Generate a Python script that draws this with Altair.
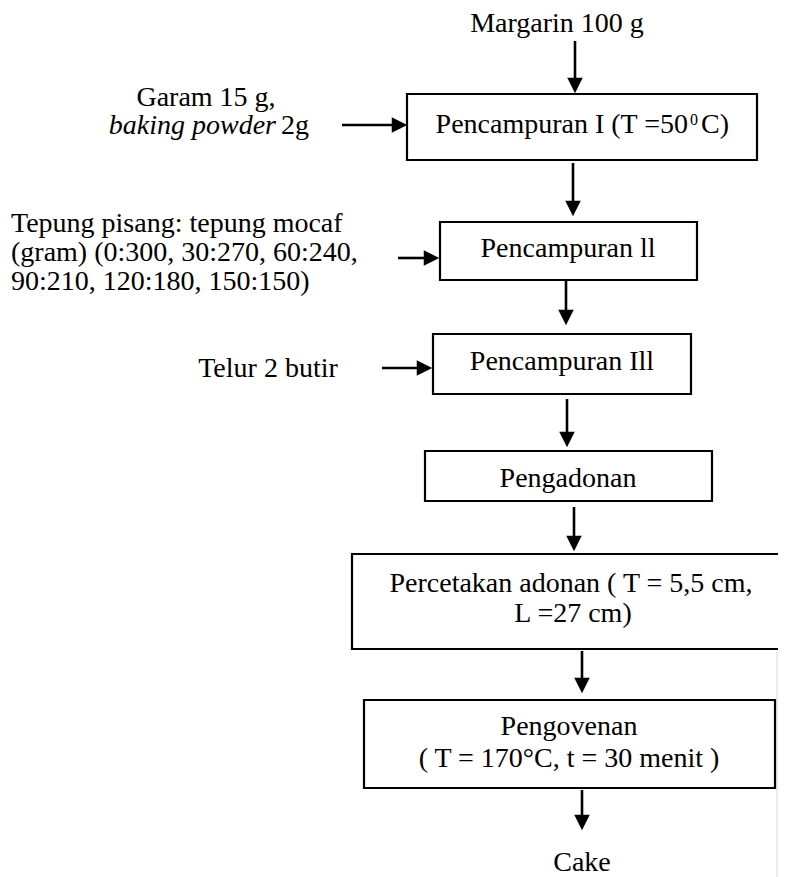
import altair as alt
import pandas as pd

# ---- flowchart content (positions in reference pixel units) ----
box_name = ["Pencampuran I", "Pencampuran II", "Pencampuran III",
            "Pengadonan", "Percetakan adonan", "Pengovenan"]
box_x1 = [407, 440, 433, 425, 352, 364]
box_x2 = [757, 697, 691, 712, 800, 775]
box_y1 = [94, 222, 334, 451, 554, 700]
box_y2 = [160, 280, 394, 501, 649, 788]

down_x = [575, 573, 566, 567, 574, 582, 582]
down_y1 = [41, 163, 280, 399, 507, 651, 790]
down_y2 = [93, 216, 325, 447, 551, 693, 830]

right_y = [125, 258, 368]
right_x1 = [342, 398, 382]
right_x2 = [407, 439, 432]

center_text = ["Margarin 100 g", "Garam 15 g,",
               "Pencampuran ll", "Pencampuran Ill", "Telur 2 butir", "Pengadonan",
               "Percetakan adonan ( T = 5,5 cm,", "L =27 cm)", "Pengovenan",
               "(  T = 170\u00b0C, t = 30 menit )", "Cake"]
center_x = [557, 206, 568, 562, 268, 568, 571, 573, 569, 569, 582]
center_y = [32, 106, 257, 370, 377, 487, 592, 622, 735, 767, 871]

left_text = ["Tepung pisang: tepung mocaf", "(gram) (0:300, 30:270, 60:240,",
             "90:210, 120:180, 150:150)", "2g", "C)"]
left_x = [11, 11, 11, 281, 701]
left_y = [232, 261, 290, 134, 133]

right_text = ["Pencampuran I (T =50"]
right_tx = [688]
right_ty = [133]

sup_text = ["0"]
sup_x = [694]
sup_y = [125]

italic_text = ["baking powder"]
italic_x = [276]
italic_y = [134]

edge_x = [777]
edge_y1 = [652]
edge_y2 = [877]

FONT = "Liberation Serif"
FS = 28

xs = alt.Scale(domain=[8, 778], nice=False, zero=False)
ys = alt.Scale(domain=[8, 877], nice=False, zero=False, reverse=True)

boxes = pd.DataFrame({"name": box_name, "x1": box_x1, "x2": box_x2, "y1": box_y1, "y2": box_y2})
downs = pd.DataFrame({"x": down_x, "y1": down_y1, "y2": down_y2})
rights = pd.DataFrame({"y": right_y, "x1": right_x1, "x2": right_x2})
ctext = pd.DataFrame({"t": center_text, "x": center_x, "y": center_y})
ltext = pd.DataFrame({"t": left_text, "x": left_x, "y": left_y})
rtext = pd.DataFrame({"t": right_text, "x": right_tx, "y": right_ty})
stext = pd.DataFrame({"t": sup_text, "x": sup_x, "y": sup_y})
itext = pd.DataFrame({"t": italic_text, "x": italic_x, "y": italic_y})
edge = pd.DataFrame({"x": edge_x, "y1": edge_y1, "y2": edge_y2})


def X(f):
    return alt.X(f, scale=xs, axis=None)


def Y(f):
    return alt.Y(f, scale=ys, axis=None)


edge_layer = alt.Chart(edge).mark_rule(color="#e6e6e6", strokeWidth=1.5).encode(
    x=X("x:Q"), y=Y("y1:Q"), y2="y2:Q",
)

box_layer = alt.Chart(boxes).mark_rect(
    fill="white", fillOpacity=0, stroke="black", strokeWidth=2.2, clip=True
).encode(
    x=X("x1:Q"), x2="x2:Q", y=Y("y1:Q"), y2="y2:Q",
)

down_shaft = alt.Chart(downs).transform_calculate(yend="datum.y2 - 10").mark_rule(
    color="black", strokeWidth=2.6
).encode(x=X("x:Q"), y=Y("y1:Q"), y2="yend:Q")

down_head = alt.Chart(downs).transform_calculate(yc="datum.y2 - 7.5").mark_point(
    shape="M-1,-1L1,-1L0,1Z", filled=True, color="black", opacity=1, size=240, strokeWidth=0
).encode(x=X("x:Q"), y=Y("yc:Q"))

right_shaft = alt.Chart(rights).transform_calculate(xend="datum.x2 - 10").mark_rule(
    color="black", strokeWidth=2.6
).encode(x=X("x1:Q"), x2="xend:Q", y=Y("y:Q"))

right_head = alt.Chart(rights).transform_calculate(xc="datum.x2 - 7.5").mark_point(
    shape="M-1,-1L-1,1L1,0Z", filled=True, color="black", opacity=1, size=240, strokeWidth=0
).encode(x=X("xc:Q"), y=Y("y:Q"))


def text_layer(df, **kw):
    return alt.Chart(df).mark_text(
        font=FONT, baseline="alphabetic", color="black", **kw
    ).encode(x=X("x:Q"), y=Y("y:Q"), text="t:N")


c_layer = text_layer(ctext, fontSize=FS, align="center")
l_layer = text_layer(ltext, fontSize=FS, align="left")
r_layer = text_layer(rtext, fontSize=FS, align="right")
s_layer = text_layer(stext, fontSize=16, align="center")
i_layer = text_layer(itext, fontSize=FS, align="right", fontStyle="italic")

chart = alt.layer(
    edge_layer, box_layer, down_shaft, down_head, right_shaft, right_head,
    c_layer, l_layer, r_layer, s_layer, i_layer
).properties(
    width=770, height=869, padding=0, background="white"
).configure_view(stroke=None)

chart.save("out.html", embed_options={"renderer": "svg", "actions": False})
